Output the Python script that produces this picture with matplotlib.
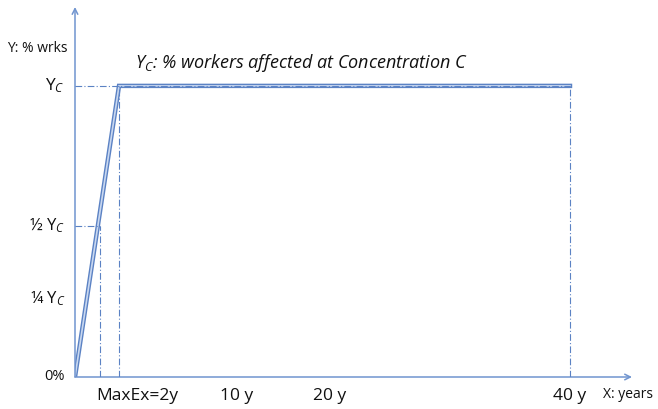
import matplotlib.pyplot as plt

# schematic chart units: x = distance from origin, y = % of Yc
curve_x = [0, 44, 495]
curve_y = [0, 100, 100]

half_x, half_y = 25, 52
max_x = 44
end_x = 495

y_ticks = [0, 27, 52, 100]
y_labels = ['0%', r'¼ Y$_\mathit{C}$', r'½ Y$_\mathit{C}$', r'Y$_\mathit{C}$']
y_sizes = [10.5, 12, 12, 12.5]
x_ticks = [62, 162, 255, 495]
x_labels = ['MaxEx=2y', '10 y', '20 y', '40 y']

axis_col = '#7094cf'
line_outer = '#5b82c4'
line_inner = '#c9d8f0'
guide_col = '#5b82c4'
text_col = '#111111'

plt.rcParams['font.family'] = ['Open Sans', 'DejaVu Sans']
plt.rcParams['mathtext.fontset'] = 'custom'
plt.rcParams['mathtext.rm'] = 'Open Sans'
plt.rcParams['mathtext.it'] = 'Open Sans:italic'

fig = plt.figure(figsize=(6.58, 4.09), dpi=100)
ax = fig.add_axes([75 / 658, 32 / 409, 557 / 658, 370 / 409])
ax.set_xlim(0, 557)
ax.set_ylim(0, 127.1)
for s in ax.spines.values():
    s.set_visible(False)
ax.set_xticks([])
ax.set_yticks([])

# axes with open arrows
ax.annotate('', xy=(557, 0), xytext=(0, 0),
            arrowprops=dict(arrowstyle='->', color=axis_col, lw=1.1, shrinkA=0, shrinkB=0))
ax.annotate('', xy=(0, 127.1), xytext=(0, 0),
            arrowprops=dict(arrowstyle='->', color=axis_col, lw=1.1, shrinkA=0, shrinkB=0))

# dash-dot guides
g = dict(color=guide_col, lw=0.8, ls=(0, (6, 2, 1, 2)), zorder=3)
ax.plot([0, end_x], [100, 100], **g)
ax.plot([max_x, max_x], [0, 100], **g)
ax.plot([0, half_x], [half_y, half_y], **g)
ax.plot([half_x, half_x], [0, half_y], **g)
ax.plot([end_x, end_x], [0, 100], **g)

# double-stroke curve
ax.plot(curve_x, curve_y, color=line_outer, lw=3.2, solid_joinstyle='miter', zorder=2)
ax.plot(curve_x, curve_y, color=line_inner, lw=1.2, solid_joinstyle='miter', zorder=2)

for yv, lab, fs in zip(y_ticks, y_labels, y_sizes):
    ax.text(-10, yv, lab, ha='right', va='center', fontsize=fs, color=text_col)
for xv, lab in zip(x_ticks, x_labels):
    ax.text(xv, -6.5, lab, ha='center', va='center', fontsize=12.5, color=text_col)

ax.text(-68, 113, 'Y: % wrks', ha='left', va='center', fontsize=10, color=text_col)
ax.text(528, -6, 'X: years', ha='left', va='center', fontsize=10, color=text_col)
ax.text(60, 108, r'Y$_\mathit{C}$: % workers affected at Concentration C',
        ha='left', va='center', fontsize=13, style='italic', color=text_col)

fig.savefig('out.png', dpi=100)
